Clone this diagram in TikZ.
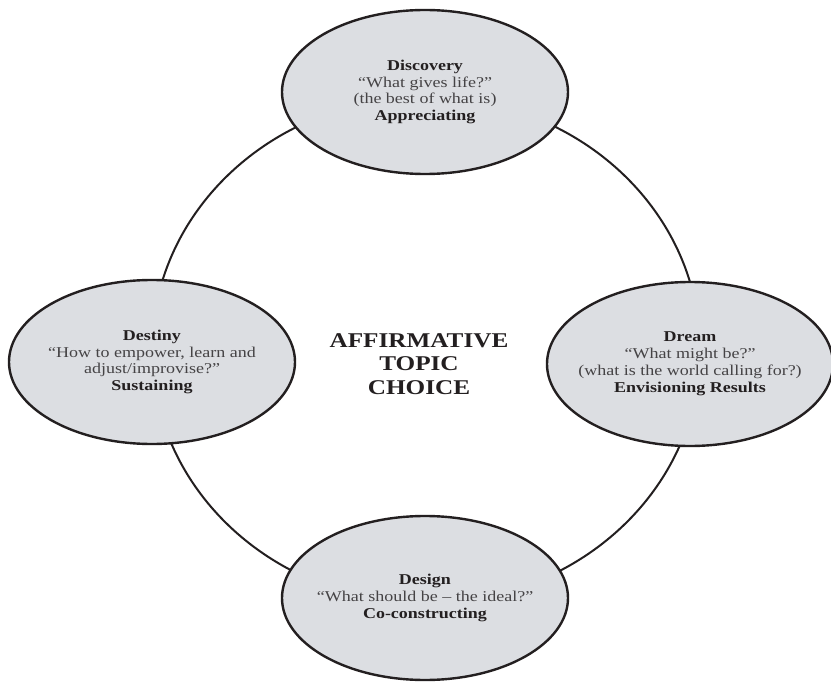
\documentclass[tikz,border=0pt]{standalone}
\usepackage{fontspec}
\setmainfont[FakeStretch=1.2]{Liberation Serif}
\definecolor{ink}{HTML}{231F20}
\definecolor{phasefill}{HTML}{DCDEE2}
\definecolor{quotegrey}{HTML}{454345}
\usetikzlibrary{shapes.geometric}

\begin{document}
\begin{tikzpicture}
  [x=1pt, y=-1pt,
    every node/.style={align=center, text=quotegrey, font=\fontsize{15}{16.9}\selectfont},
    phase/.style={ellipse, draw=ink, line width=2.4pt, fill=phasefill,
      minimum width=286pt, minimum height=164pt, inner sep=0pt,
      label={[align=center]center:#1}},
    ring/.style={ellipse, draw=ink, line width=2pt,
      minimum width=548pt, minimum height=506pt, inner sep=0pt},
]
\useasboundingbox (0,0) rectangle (831,682);

% the cycle behind the four phases
\node[ring] (cycle) at (426,350) {};

\node[text=ink, font=\fontsize{21}{23.3}\selectfont\bfseries] (topic) at (419,364)
  {AFFIRMATIVE\\TOPIC\\CHOICE};

\node[phase={{\bfseries\color{ink}Discovery}\\``What gives life?''\\(the best of what is)\\{\bfseries\color{ink}Appreciating}}]
  (discovery) at (425,92) {};
\node[phase={{\bfseries\color{ink}Dream}\\``What might be?''\\(what is the world calling for?)\\{\bfseries\color{ink}Envisioning Results}}]
  (dream) at (690,364) {};
\node[phase={{\bfseries\color{ink}Design}\\``What should be -- the ideal?''\\{\bfseries\color{ink}Co-constructing}}]
  (design) at (425,598) {};
\node[phase={{\bfseries\color{ink}Destiny}\\``How to empower, learn and\\adjust/improvise?''\\{\bfseries\color{ink}Sustaining}}]
  (destiny) at (152,362) {};
\end{tikzpicture}
\end{document}
